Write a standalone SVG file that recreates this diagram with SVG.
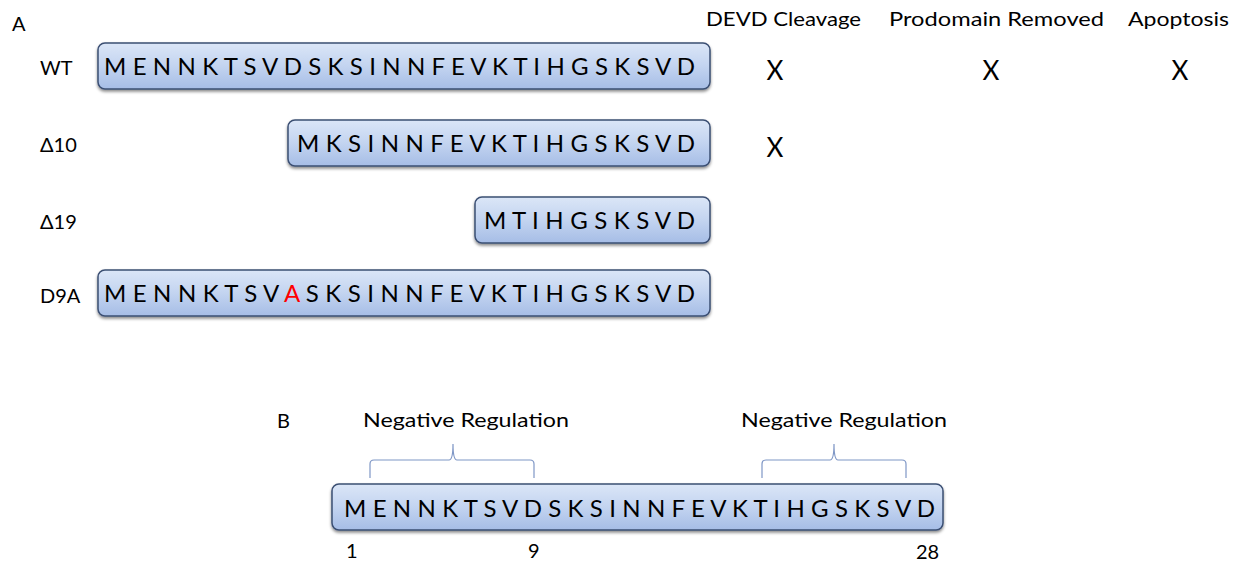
<svg xmlns="http://www.w3.org/2000/svg" width="1241" height="567" viewBox="0 0 1241 567">
  <defs>
    <linearGradient id="pep" x1="0" y1="0" x2="0" y2="1">
      <stop offset="0" stop-color="#dbe6f7"/>
      <stop offset="0.5" stop-color="#c3d4f0"/>
      <stop offset="1" stop-color="#a6bde6"/>
    </linearGradient>
    <filter id="shadow" x="-5%" y="-20%" width="110%" height="150%">
      <feDropShadow dx="0" dy="2" stdDeviation="1.5" flood-color="#000" flood-opacity="0.45"/>
    </filter>
  </defs>
  <style>
    text { font-family: Lato, "Open Sans", "Liberation Sans", sans-serif; fill: #000; }
    .box { fill: url(#pep); stroke: #3b4f73; stroke-width: 1.5; filter: url(#shadow); }
    .seq { font-size: 24px; }
    .lbl { font-size: 20px; }
    .hdr { font-size: 20px; }
    .mark { font-size: 26px; text-anchor: middle; }
    .brace { fill: none; stroke: #7f97c6; stroke-width: 1.2; }
    .mut { fill: #ff0000; }
  </style>
  <rect width="1241" height="567" fill="#ffffff"/>

  <!-- Panel A -->
  <text class="lbl" x="12" y="31">A</text>

  <g id="header">
    <text class="hdr" x="706" y="26" textLength="155" lengthAdjust="spacingAndGlyphs">DEVD Cleavage</text>
    <text class="hdr" x="889" y="26" textLength="215" lengthAdjust="spacingAndGlyphs">Prodomain Removed</text>
    <text class="hdr" x="1128" y="26" textLength="101" lengthAdjust="spacingAndGlyphs">Apoptosis</text>
  </g>

  <g id="wt">
    <text class="lbl" x="40" y="75">WT</text>
    <rect class="box" x="98" y="43" width="612" height="46" rx="7"/>
    <text class="seq" x="104" y="75" textLength="591" lengthAdjust="spacing">M E N N K T S V D S K S I N N F E V K T I H G S K S V D</text>
    <text class="mark" x="775" y="80">X</text>
    <text class="mark" x="991" y="80">X</text>
    <text class="mark" x="1180" y="80">X</text>
  </g>

  <g id="d10">
    <text class="lbl" x="40" y="152">Δ10</text>
    <rect class="box" x="288" y="120" width="422" height="46" rx="7"/>
    <text class="seq" x="297" y="152" textLength="398" lengthAdjust="spacing">M K S I N N F E V K T I H G S K S V D</text>
    <text class="mark" x="775" y="157">X</text>
  </g>

  <g id="d19">
    <text class="lbl" x="40" y="229">Δ19</text>
    <rect class="box" x="475" y="197" width="235" height="46" rx="7"/>
    <text class="seq" x="484" y="229" textLength="211" lengthAdjust="spacing">M T I H G S K S V D</text>
  </g>

  <g id="d9a">
    <text class="lbl" x="40" y="303">D9A</text>
    <rect class="box" x="98" y="270" width="612" height="46" rx="7"/>
    <text class="seq" x="104" y="302" textLength="591" lengthAdjust="spacing">M E N N K T S V <tspan class="mut">A</tspan> S K S I N N F E V K T I H G S K S V D</text>
  </g>

  <!-- Panel B -->
  <text class="lbl" x="277" y="428">B</text>

  <g id="region1">
    <text class="hdr" x="363" y="427" textLength="206" lengthAdjust="spacingAndGlyphs">Negative Regulation</text>
  </g>
  <g id="region2">
    <text class="hdr" x="741" y="427" textLength="206" lengthAdjust="spacingAndGlyphs">Negative Regulation</text>
  </g>

  <g id="connectors">
    <path class="brace" d="M370 478 V464 Q370 460 374 460 H449 Q453 460 453 444 Q453 460 457 460 H530 Q534 460 534 464 V478"/>
    <path class="brace" d="M762 478 V464 Q762 460 766 460 H830 Q834 460 834 444 Q834 460 838 460 H902 Q906 460 906 464 V478"/>
  </g>

  <g id="full">
    <rect class="box" x="332" y="484" width="611" height="46" rx="7"/>
    <text class="seq" x="344" y="517" textLength="591" lengthAdjust="spacing">M E N N K T S V D S K S I N N F E V K T I H G S K S V D</text>
    <text class="lbl" x="346" y="558">1</text>
    <text class="lbl" x="528" y="558">9</text>
    <text class="lbl" x="916" y="559">28</text>
  </g>
</svg>
